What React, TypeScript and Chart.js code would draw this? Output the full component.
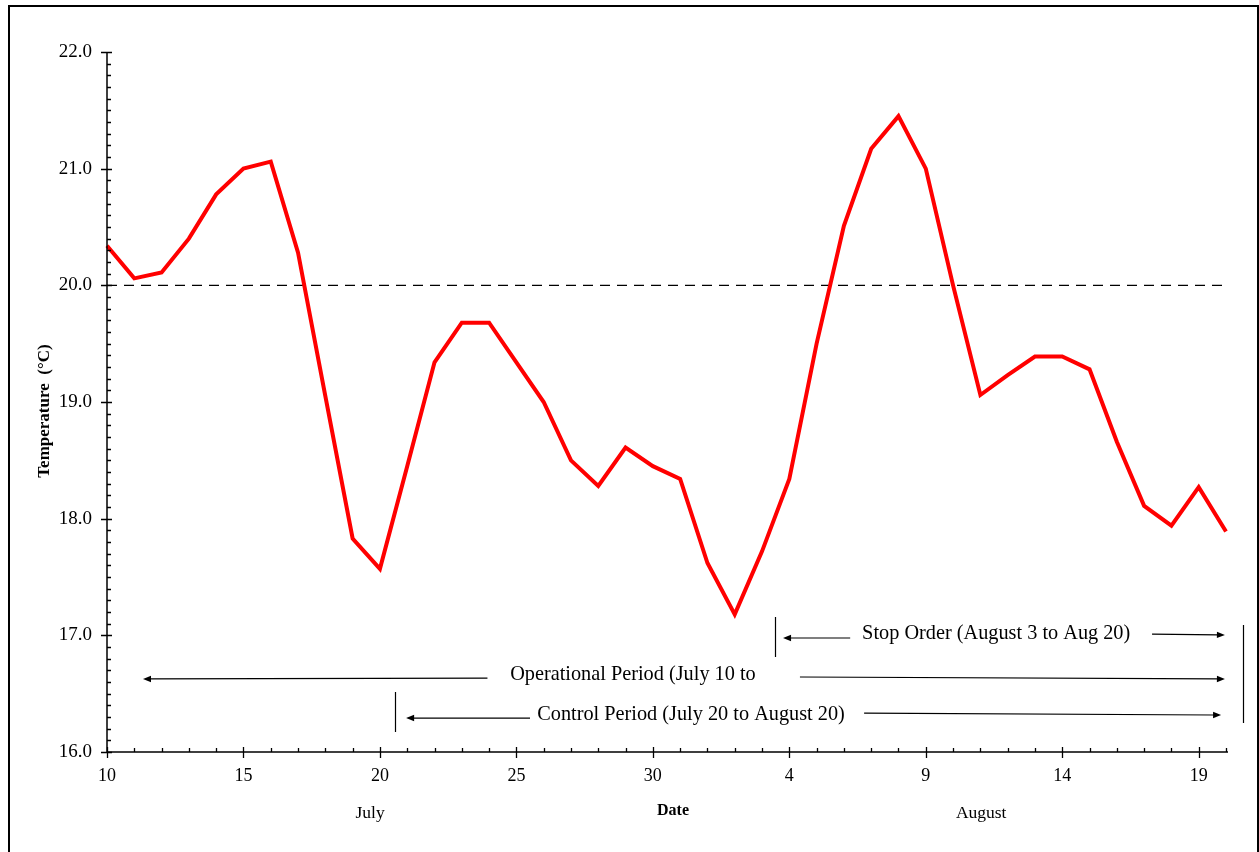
import React, { useEffect, useRef } from "react";
import { Chart, registerables } from "chart.js";

Chart.register(...registerables);

// ---- data ----
const dayLabels = [
  "10", "11", "12", "13", "14", "15", "16", "17", "18", "19", "20",
  "21", "22", "23", "24", "25", "26", "27", "28", "29", "30", "31",
  "1", "2", "3", "4", "5", "6", "7", "8", "9", "10",
  "11", "12", "13", "14", "15", "16", "17", "18", "19", "20",
];

const temperature = [
  20.34, 20.06, 20.11, 20.40, 20.78, 21.00, 21.06, 20.28, 19.05, 17.83, 17.57,
  18.45, 19.34, 19.68, 19.68, 19.34, 19.00, 18.50, 18.28, 18.61, 18.45, 18.34,
  17.62, 17.18, 17.72, 18.34, 19.50, 20.51, 21.17, 21.45, 21.00, 20.00,
  19.06, 19.23, 19.39, 19.39, 19.28, 18.66, 18.11, 17.94, 18.27, 17.89,
];

const THRESHOLD = 20.0;
const Y_MIN = 16;
const Y_MAX = 22;
const Y_MINOR_STEP = 0.1;
const Y_MAJOR_EVERY = 10;
const X_MAJOR_EVERY = 5;

// Annotation texts (positions in data units: x = day index, y = temperature)
const annotationTexts = [
  { text: "Stop Order (August 3 to Aug 20)", x: 32.58, y: 17.01 },
  { text: "Operational Period (July 10 to", x: 19.27, y: 16.66 },
  { text: "Control Period (July 20 to August 20)", x: 21.4, y: 16.317 },
];

const bracketLines = [
  { x: 24.48, y1: 17.157, y2: 16.814 },
  { x: 41.63, y1: 17.089, y2: 16.249 },
  { x: 10.54, y1: 16.514, y2: 16.171 },
];

const arrows = [
  { x1: 27.23, y1: 16.977, x2: 24.77, y2: 16.977 },
  { x1: 38.29, y1: 17.011, x2: 40.96, y2: 17.003 },
  { x1: 13.94, y1: 16.634, x2: 1.32, y2: 16.626 },
  { x1: 25.39, y1: 16.643, x2: 40.96, y2: 16.626 },
  { x1: 15.5, y1: 16.291, x2: 10.96, y2: 16.291 },
  { x1: 27.74, y1: 16.334, x2: 40.82, y2: 16.317 },
];

const monthLabels = [
  { text: "July", x: 9.64 },
  { text: "August", x: 32.03 },
];

const X_TITLE = "Date";
const Y_TITLE = "Temperature  (°C)";

const SERIF = "'Liberation Serif', 'Times New Roman', serif";

const decorPlugin = {
  id: "decor",
  beforeDraw(chart: any) {
    const { ctx, width, height } = chart;
    ctx.save();
    ctx.fillStyle = "#fff";
    ctx.fillRect(0, 0, width, height);
    ctx.restore();
  },
  afterDraw(chart: any) {
    const { ctx, chartArea: ca } = chart;
    const xs = chart.scales.x;
    const ys = chart.scales.y;
    ctx.save();
    ctx.strokeStyle = "#000";
    ctx.fillStyle = "#000";

    // outer frame
    ctx.lineWidth = 2;
    ctx.strokeRect(9, 6, 1249, 900);

    // axes
    ctx.lineWidth = 1.5;
    ctx.beginPath();
    ctx.moveTo(ca.left, ca.top);
    ctx.lineTo(ca.left, ca.bottom);
    ctx.lineTo(ca.right + 2, ca.bottom);
    ctx.stroke();

    // y ticks
    const nY = Math.round((Y_MAX - Y_MIN) / Y_MINOR_STEP);
    ctx.lineWidth = 1.3;
    ctx.beginPath();
    for (let i = 0; i <= nY; i++) {
      const py = Math.round(ys.getPixelForValue(Y_MIN + i * Y_MINOR_STEP)) + 0.5;
      if (i % Y_MAJOR_EVERY === 0) {
        ctx.moveTo(ca.left - 6, py);
        ctx.lineTo(ca.left + 5, py);
      } else {
        ctx.moveTo(ca.left, py);
        ctx.lineTo(ca.left + 4, py);
      }
    }
    // x ticks
    for (let i = 0; i < dayLabels.length; i++) {
      const px = Math.round(xs.getPixelForValue(i)) + 0.5;
      if (i % X_MAJOR_EVERY === 0) {
        ctx.moveTo(px, ca.bottom - 5);
        ctx.lineTo(px, ca.bottom + 6);
      } else {
        ctx.moveTo(px, ca.bottom);
        ctx.lineTo(px, ca.bottom - 4);
      }
    }
    ctx.stroke();

    // bracket lines
    ctx.lineWidth = 1.2;
    ctx.beginPath();
    for (const b of bracketLines) {
      const px = Math.round(xs.getPixelForValue(b.x)) + 0.5;
      ctx.moveTo(px, ys.getPixelForValue(b.y1));
      ctx.lineTo(px, ys.getPixelForValue(b.y2));
    }
    ctx.stroke();

    // arrows
    for (const a of arrows) {
      const x1 = xs.getPixelForValue(a.x1);
      const y1 = ys.getPixelForValue(a.y1);
      const x2 = xs.getPixelForValue(a.x2);
      const y2 = ys.getPixelForValue(a.y2);
      const ang = Math.atan2(y2 - y1, x2 - x1);
      const len = 8;
      const hw = 3.2;
      ctx.lineWidth = 1.2;
      ctx.beginPath();
      ctx.moveTo(x1, y1);
      ctx.lineTo(x2 - Math.cos(ang) * (len - 1), y2 - Math.sin(ang) * (len - 1));
      ctx.stroke();
      ctx.beginPath();
      ctx.moveTo(x2, y2);
      ctx.lineTo(
        x2 - Math.cos(ang) * len - Math.sin(ang) * hw,
        y2 - Math.sin(ang) * len + Math.cos(ang) * hw
      );
      ctx.lineTo(
        x2 - Math.cos(ang) * len + Math.sin(ang) * hw,
        y2 - Math.sin(ang) * len - Math.cos(ang) * hw
      );
      ctx.closePath();
      ctx.fill();
    }

    // annotation texts
    ctx.font = `20.3px ${SERIF}`;
    ctx.textAlign = "center";
    ctx.textBaseline = "middle";
    for (const t of annotationTexts) {
      ctx.fillText(t.text, xs.getPixelForValue(t.x), ys.getPixelForValue(t.y));
    }

    // month labels
    ctx.font = `17.5px ${SERIF}`;
    for (const m of monthLabels) {
      ctx.fillText(m.text, xs.getPixelForValue(m.x), ca.bottom + 61);
    }

    // x title
    ctx.font = `bold 16px ${SERIF}`;
    ctx.fillText(X_TITLE, xs.getPixelForValue(20.74), ca.bottom + 59);

    // y title
    ctx.save();
    ctx.translate(45, 411);
    ctx.rotate(-Math.PI / 2);
    ctx.font = `bold 17px ${SERIF}`;
    ctx.fillText(Y_TITLE, 0, 0);
    ctx.restore();

    ctx.restore();
  },
};

export default function App() {
  const canvasRef = useRef<HTMLCanvasElement | null>(null);

  useEffect(() => {
    if (!canvasRef.current) return;
    const chart = new Chart(canvasRef.current, {
      type: "line",
      data: {
        labels: dayLabels,
        datasets: [
          {
            label: "Temperature",
            data: temperature,
            borderColor: "#ff0000",
            borderWidth: 4,
            pointRadius: 0,
            tension: 0,
            fill: false,
            order: 1,
          },
          {
            label: "Threshold",
            data: dayLabels.map(() => THRESHOLD),
            borderColor: "#000",
            borderWidth: 1.3,
            borderDash: [10, 7],
            pointRadius: 0,
            fill: false,
            order: 2,
          },
        ],
      },
      options: {
        animation: false,
        responsive: true,
        maintainAspectRatio: false,
        layout: { padding: { top: 52, right: 33, left: 0, bottom: 0 } },
        plugins: {
          legend: { display: false },
          tooltip: { enabled: false },
        },
        scales: {
          x: {
            type: "category",
            offset: false,
            grid: { display: false, drawTicks: false },
            border: { display: false },
            ticks: {
              autoSkip: false,
              maxRotation: 0,
              color: "#000",
              padding: 13,
              font: { family: SERIF, size: 18 },
              callback: (_v: any, i: number) => (i % X_MAJOR_EVERY === 0 ? dayLabels[i] : null),
            },
            afterFit: (s: any) => {
              s.height = 100;
            },
          },
          y: {
            type: "linear",
            min: Y_MIN,
            max: Y_MAX,
            grid: { display: false, drawTicks: false },
            border: { display: false },
            ticks: {
              stepSize: 1,
              color: "#000",
              padding: 15,
              font: { family: SERIF, size: 19 },
              callback: (v: any) => Number(v).toFixed(1),
            },
            afterFit: (s: any) => {
              s.width = 107;
            },
          },
        },
      },
      plugins: [decorPlugin],
    });
    return () => chart.destroy();
  }, []);

  return (
    <div style={{ position: "fixed", left: 0, top: 0, width: 1259, height: 852, background: "#fff" }}>
      <canvas ref={canvasRef} />
    </div>
  );
}
